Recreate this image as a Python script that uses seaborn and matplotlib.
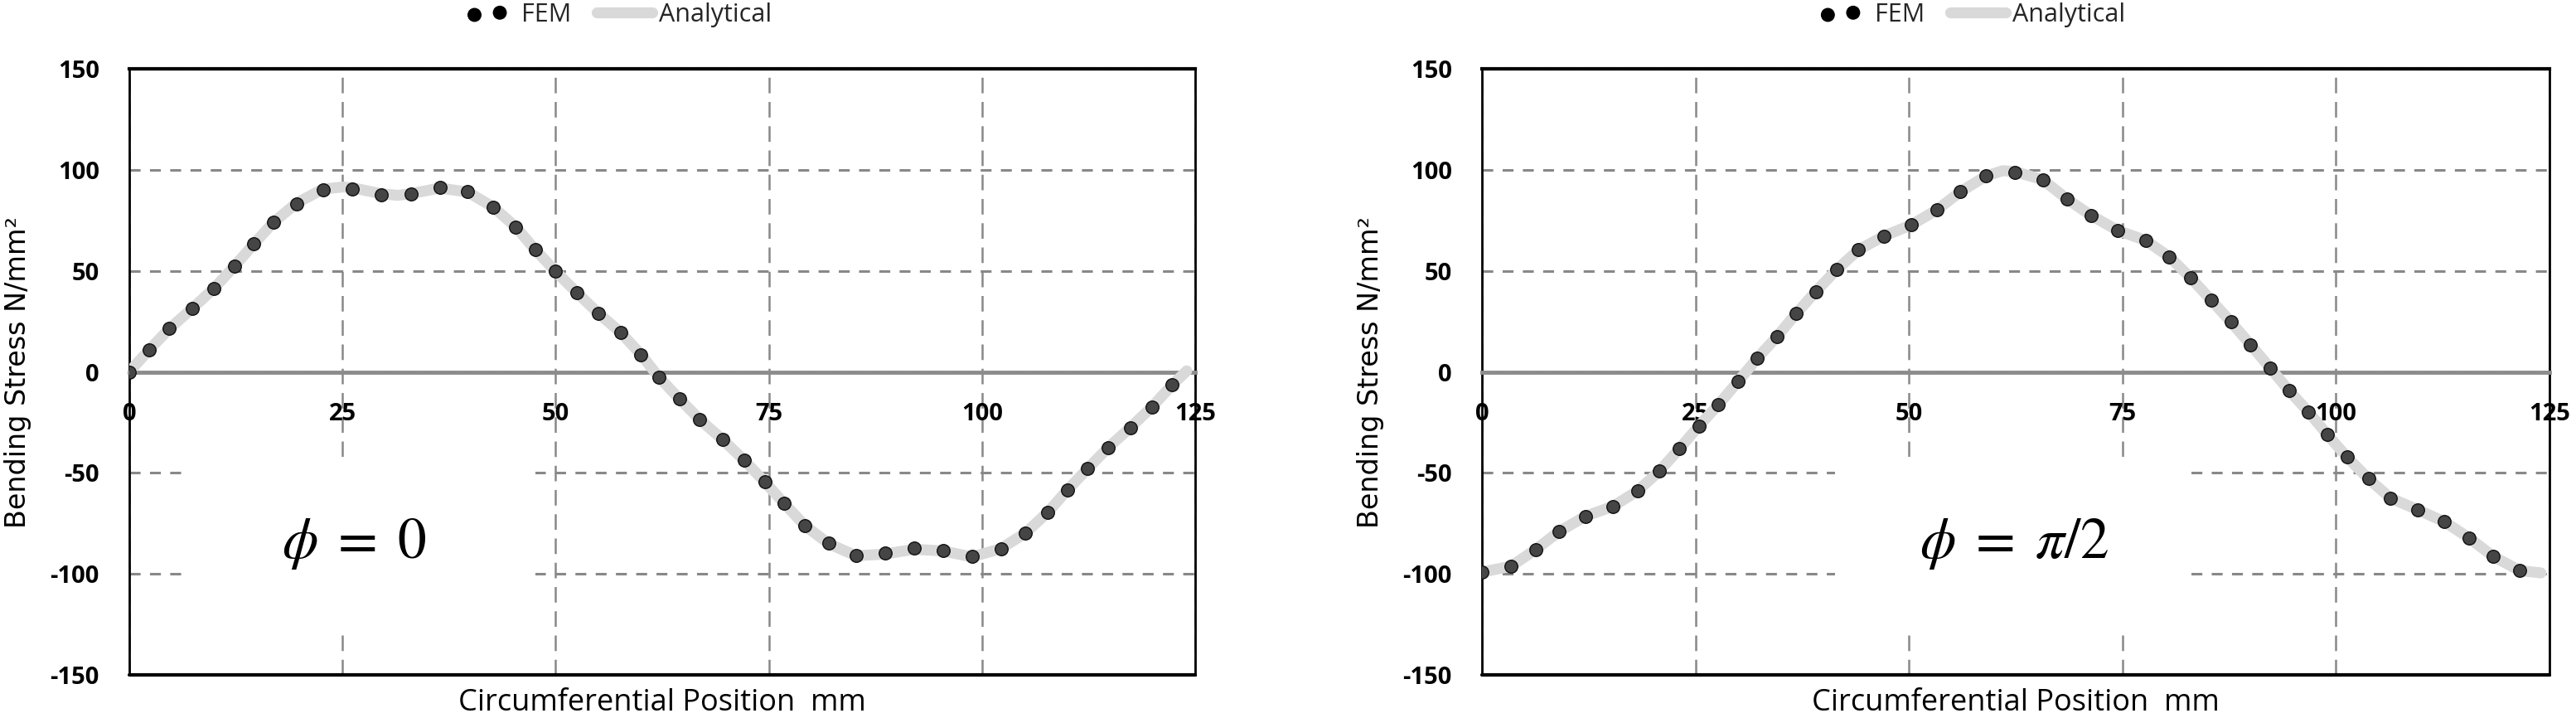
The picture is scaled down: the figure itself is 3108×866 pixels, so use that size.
import matplotlib
matplotlib.use("Agg")
import matplotlib.pyplot as plt
from matplotlib.patches import Rectangle
from matplotlib.collections import PathCollection
from matplotlib.legend_handler import HandlerPathCollection
import seaborn as sns

# ---------- data ----------
# phi = 0 : FEM nodes
fem_x_0 = [0.0, 2.3, 4.7, 7.4, 9.9, 12.3, 14.6, 16.9, 19.6, 22.7, 26.1, 29.5,
           33.0, 36.4, 39.7, 42.7, 45.3, 47.6, 50.0, 52.5, 55.0, 57.6, 60.0,
           62.1, 64.5, 66.9, 69.6, 72.1, 74.5, 76.8, 79.2, 82.0, 85.2, 88.6,
           92.0, 95.4, 98.8, 102.2, 105.1, 107.7, 110.0, 112.4, 114.8, 117.4,
           119.9, 122.3]
fem_y_0 = [0.0, 10.8, 21.4, 31.5, 41.2, 52.2, 63.3, 74.0, 83.3, 90.1, 90.7, 87.6,
           88.0, 91.3, 89.1, 81.5, 71.8, 60.5, 49.7, 39.2, 29.0, 19.6, 8.6,
           -2.6, -13.3, -23.6, -33.6, -43.7, -54.4, -65.1, -76.0, -84.8, -90.7, -89.7,
           -87.3, -88.4, -91.4, -87.5, -79.7, -69.5, -58.5, -47.8, -37.4, -27.5,
           -17.4, -6.4]
# phi = 0 : analytical curve
ana_x_0 = [0.0, 2.3, 4.7, 7.4, 9.9, 12.3, 14.6, 16.9, 19.6, 22.7, 25.0, 26.1, 29.5,
           31.5, 33.0, 36.4, 39.7, 42.7, 45.3, 47.6, 50.0, 52.5, 55.0, 57.6, 60.0,
           62.1, 64.5, 66.9, 69.6, 72.1, 74.5, 76.8, 79.2, 82.0, 85.2, 88.6,
           92.0, 95.4, 98.8, 102.2, 105.1, 107.7, 110.0, 112.4, 114.8, 117.4,
           119.9, 122.3, 124.0]
ana_y_0 = [0.0, 10.8, 21.4, 31.5, 41.2, 52.2, 63.3, 74.0, 83.5, 90.5, 91.5, 91.2, 88.2,
           87.4, 88.2, 91.0, 89.0, 81.5, 71.8, 60.5, 49.7, 39.2, 29.0, 19.6, 8.6,
           -2.6, -13.3, -23.6, -33.6, -43.7, -54.4, -65.1, -76.0, -85.0, -91.0, -90.2,
           -87.8, -88.6, -91.6, -87.5, -79.7, -69.5, -58.5, -47.8, -37.4, -27.5,
           -17.4, -6.4, 0.5]

# phi = pi/2 : FEM nodes
fem_x_90 = [0.0, 3.4, 6.3, 9.0, 12.1, 15.3, 18.2, 20.8, 23.1, 25.4, 27.7, 30.0,
            32.2, 34.5, 36.8, 39.1, 41.5, 44.1, 47.1, 50.3, 53.3, 56.0, 59.0,
            62.4, 65.7, 68.5, 71.3, 74.4, 77.7, 80.5, 83.0, 85.4, 87.7, 90.0,
            92.3, 94.5, 96.8, 99.0, 101.3, 103.8, 106.4, 109.6, 112.7, 115.6,
            118.4, 121.5]
fem_y_90 = [-99.1, -96.2, -87.9, -79.1, -71.5, -66.6, -59.0, -49.0, -38.1, -26.8, -16.1, -4.7,
            6.6, 17.3, 28.9, 39.8, 50.5, 60.4, 67.3, 72.8, 80.3, 89.1, 96.9,
            98.8, 95.0, 85.6, 77.5, 70.1, 65.1, 56.9, 46.5, 35.5, 24.7, 13.5,
            1.9, -9.2, -19.9, -31.1, -42.2, -52.9, -62.5, -68.3, -74.2, -82.2,
            -91.3, -98.1]
# phi = pi/2 : analytical curve
ana_x_90 = [0.0, 3.4, 6.3, 9.0, 12.1, 15.3, 18.2, 20.8, 23.1, 25.4, 27.7, 30.0,
            32.2, 34.5, 36.8, 39.1, 41.5, 44.1, 47.1, 50.3, 53.3, 56.0, 59.0,
            61.0, 62.4, 65.7, 68.5, 71.3, 74.4, 77.7, 80.5, 83.0, 85.4, 87.7, 90.0,
            92.3, 94.5, 96.8, 99.0, 101.3, 103.8, 106.4, 109.6, 112.7, 115.6,
            118.4, 121.5, 124.0]
ana_y_90 = [-99.1, -96.2, -87.9, -79.1, -71.5, -66.6, -59.0, -49.0, -38.1, -26.8, -16.1, -4.7,
            6.6, 17.3, 28.9, 39.8, 50.5, 60.4, 67.3, 72.8, 80.3, 89.1, 96.9,
            99.6, 99.2, 95.0, 85.6, 77.5, 70.1, 65.1, 56.9, 46.5, 35.5, 24.7, 13.5,
            1.9, -9.2, -19.9, -31.1, -42.2, -52.9, -62.5, -68.3, -74.2, -82.2,
            -91.3, -98.3, -99.5]

x_ticks = [0, 25, 50, 75, 100, 125]
y_ticks = [-150, -100, -50, 0, 50, 100, 150]
x_label = "Circumferential Position  mm"
y_label = "Bending Stress N/mm²"
phi_labels = [r"$\phi\;=\;0$", r"$\phi\;=\;\pi/2$"]

# ---------- layout (positions only) ----------
axes_rects = [[0.0502, 0.0600, 0.4138, 0.8441],
              [0.5753, 0.0600, 0.4144, 0.8441]]
phi_pos = [(26.3, -84.7), (62.3, -84.7)]
phi_box = [(6.2, -130, 41.4, 88), (41.3, -130, 41.3, 88)]

sns.set_theme(style="white")
plt.rcParams["font.family"] = ["Open Sans", "DejaVu Sans"]
plt.rcParams["mathtext.fontset"] = "stix"

fig = plt.figure(figsize=(31.08, 8.66), dpi=100)

panels = [(fem_x_0, fem_y_0, ana_x_0, ana_y_0),
          (fem_x_90, fem_y_90, ana_x_90, ana_y_90)]

for i, (fx, fy, axx, ayy) in enumerate(panels):
    ax = fig.add_axes(axes_rects[i])

    sns.lineplot(x=axx, y=ayy, ax=ax, color="#d9d9d9", linewidth=9.5,
                 solid_capstyle="round", sort=False, estimator=None,
                 label="Analytical", zorder=3)
    sns.scatterplot(x=fx, y=fy, ax=ax, s=125, color="#454545",
                    edgecolor="#111111", linewidth=1.0, label="FEM", zorder=4)

    # zero line carries the x tick labels (set before ticks: it resets them)
    ax.spines["bottom"].set_position(("data", 0))
    ax.spines["bottom"].set_color("#8c8c8c")
    ax.spines["bottom"].set_linewidth(3.5)
    ax.spines["top"].set_color("black")
    ax.spines["top"].set_linewidth(3.0)
    for side in ["left", "right"]:
        ax.spines[side].set_visible(True)
        ax.spines[side].set_color("black")
        ax.spines[side].set_linewidth(2.0)
    ax.axhline(-150, color="black", linewidth=3.0, clip_on=False, zorder=2.6)

    ax.set_xlim(0, 125)
    ax.set_ylim(-150, 150)
    ax.tick_params(axis="both", length=0, labelcolor="black")
    ax.tick_params(axis="y", pad=26)
    ax.tick_params(axis="x", pad=26)
    ax.set_xticks(x_ticks, labels=[str(t) for t in x_ticks],
                  fontweight="bold", fontsize=21, family="Open Sans")
    ax.set_yticks(y_ticks, labels=[str(t) for t in y_ticks],
                  fontweight="bold", fontsize=21, family="Open Sans")

    # grid: short dashes horizontally, longer ones vertically
    ax.grid(axis="y", color="#888888", linewidth=2.2, linestyle=(0, (4.3, 3.7)))
    ax.grid(axis="x", color="#888888", linewidth=1.8, linestyle=(0, (7.5, 4.2)))

    ax.set_xlabel(x_label, fontsize=26, color="black")
    ax.xaxis.set_label_coords(0.5, -0.022)
    ax.set_ylabel(y_label, fontsize=24, color="black", family="DejaVu Sans")
    ax.yaxis.set_label_coords(-0.092, 0.5)

    # white box behind the phi label hides the grid there
    bx, by, bw, bh = phi_box[i]
    ax.add_patch(Rectangle((bx, by), bw, bh, facecolor="white",
                           edgecolor="none", zorder=1.8))
    ax.text(phi_pos[i][0], phi_pos[i][1], phi_labels[i], ha="center",
            va="center", fontsize=50, color="black", zorder=5)

    handles, labels = ax.get_legend_handles_labels()
    order = [labels.index("FEM"), labels.index("Analytical")]
    leg = ax.legend([handles[k] for k in order], [labels[k] for k in order],
                    loc="center", bbox_to_anchor=(0.456, 1.089), ncol=2,
                    frameon=False, scatterpoints=2, handlelength=2.2,
                    handletextpad=0.25, columnspacing=1.0, fontsize=22,
                    borderaxespad=0,
                    handler_map={PathCollection: HandlerPathCollection(marker_pad=0.6)})
    leg.legend_handles[0].set_facecolor("black")
    leg.legend_handles[0].set_edgecolor("black")

fig.savefig("out.png", dpi=100)
